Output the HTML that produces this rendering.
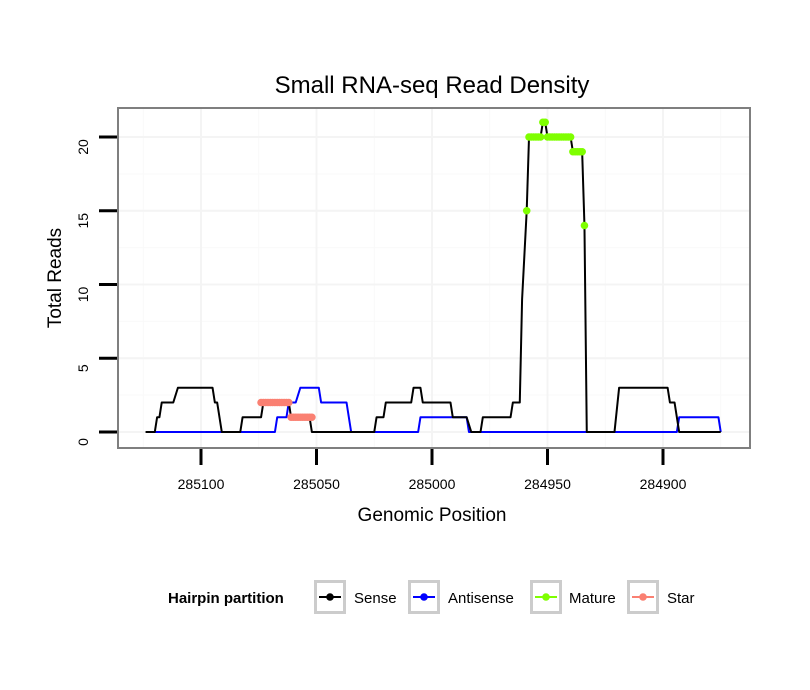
<!DOCTYPE html>
<html><head><meta charset="utf-8"><style>
body{margin:0;background:#fff;}
svg{display:block;font-family:"Liberation Sans",sans-serif;}
</style></head><body>
<svg id="chart" width="810" height="690" viewBox="0 0 810 690">
<text x="432" y="93" font-size="24" text-anchor="middle">Small RNA-seq Read Density</text>
<rect x="118" y="108" width="632" height="340" fill="#fff"/>
<g id="grid"></g>
<g id="series"></g>
<rect x="118" y="108" width="632" height="340" fill="none" stroke="#7f7f7f" stroke-width="2"/>
<g id="axes"></g>
<text x="432" y="521" font-size="19" text-anchor="middle">Genomic Position</text>
<text transform="translate(61,278) rotate(-90)" font-size="19" text-anchor="middle">Total Reads</text>
<g>
<text x="168" y="603" font-size="15" font-weight="bold">Hairpin partition</text>
<g id="legend-keys"></g>
</g>
</svg>
<script>
const senseX=[285124,285120,285119,285118,285117,285112,285110,285095,285094,285093,285091,285083,285082,285074,285073,285062,285061,285053,285052,285025,285024,285021,285020,285009,285008,285005,285004,284992,284991,284985,284983,284979,284978,284966,284965,284962,284961,284959,284958,284953,284952,284951,284950,284940,284939,284935,284934,284933,284921,284919,284898,284897,284895,284893,284875];
const senseY=[0,0,1,1,2,2,3,3,2,2,0,0,1,1,2,2,1,1,0,0,1,1,2,2,3,3,2,2,1,1,0,0,1,1,2,2,9,15,20,20,21,21,20,20,19,19,14,0,0,3,3,2,2,0,0];
const antiX=[285120,285068,285067,285063,285062,285059,285057,285049,285048,285037,285035,285006,285005,284985,284984,284894,284893,284876,284875];
const antiY=[0,0,1,1,2,2,3,3,2,2,0,0,1,1,0,0,1,1,0];
const matureX=[284959,284958,284957,284956,284955,284954,284953,284952,284951,284950,284949,284948,284947,284946,284945,284944,284943,284942,284941,284940,284939,284938,284937,284936,284935,284934];
const matureY=[15,20,20,20,20,20,20,21,21,20,20,20,20,20,20,20,20,20,20,20,19,19,19,19,19,14];
const starX=[285074,285073,285072,285071,285070,285069,285068,285067,285066,285065,285064,285063,285062,285061,285060,285059,285058,285057,285056,285055,285054,285053,285052];
const starY=[2,2,2,2,2,2,2,2,2,2,2,2,2,1,1,1,1,1,1,1,1,1,1];
const xTicks=[285100,285050,285000,284950,284900];
const yTicks=[0,5,10,15,20];
const legendLabels=["Sense","Antisense","Mature","Star"];
const legendColors=["#000000","#0000ff","#7fff00","#fa8072"];

const NS="http://www.w3.org/2000/svg";
const xs=p=>201+(285100-p)*2.31;
const ys=v=>432-v*14.75;
function mk(tag,attrs,parent){const e=document.createElementNS(NS,tag);for(const k in attrs)e.setAttribute(k,attrs[k]);parent.appendChild(e);return e;}
const grid=document.getElementById('grid'),series=document.getElementById('series'),axes=document.getElementById('axes');
for(let v=-2.5;v<=22.5;v+=5){const y=ys(v);if(y<108||y>448)continue;const l=mk('line',{x1:118,x2:750,y1:y,y2:y,stroke:'#f9f9f9','stroke-width':1},grid);

}
for(let p=285125;p>=284875;p-=50){const x=xs(p);if(x<118||x>750)continue;const l=mk('line',{x1:x,x2:x,y1:108,y2:448,stroke:'#f9f9f9','stroke-width':1},grid);

}
yTicks.forEach(v=>{const y=ys(v);const l=mk('line',{x1:118,x2:750,y1:y,y2:y,stroke:'#f4f4f4','stroke-width':2},grid);


const t=mk('line',{x1:99,x2:117,y1:y,y2:y,stroke:'#000','stroke-width':3},axes);


const tx=mk('text',{transform:`translate(88,${y+10}) rotate(-90)`,'font-size':14,'text-anchor':'middle'},axes);tx.textContent=v;

});
xTicks.forEach(p=>{const x=xs(p);const l=mk('line',{x1:x,x2:x,y1:108,y2:448,stroke:'#f4f4f4','stroke-width':2},grid);


const t=mk('line',{x1:x,x2:x,y1:449,y2:465,stroke:'#000','stroke-width':3},axes);


const tx=mk('text',{x:x,y:489,'font-size':14,'text-anchor':'middle'},axes);tx.textContent=p;

});
function line(X,Y,c,name){const pl=mk('polyline',{points:X.map((p,i)=>xs(p)+','+ys(Y[i])).join(' '),fill:'none',stroke:c,'stroke-width':2,'stroke-linejoin':'round'},series);

}
function pts(X,Y,c,name){X.forEach((p,i)=>{const ci=mk('circle',{cx:xs(p),cy:ys(Y[i]),r:3.8,fill:c},series);

});}
line(antiX,antiY,'#0000ff','antisense-line');
line(senseX,senseY,'#000000','sense-line');
pts(matureX,matureY,'#7fff00','mature-point');
pts(starX,starY,'#fa8072','star-point');
const lk=document.getElementById('legend-keys');
const boxX=[314,408,530,627],txtX=[354,448,569,667];
legendLabels.forEach((lab,i)=>{const g=mk('g',{},lk);


mk('rect',{x:boxX[i]+1.5,y:581.5,width:29,height:31,fill:'#fff',stroke:'#cccccc','stroke-width':3},g);
mk('line',{x1:boxX[i]+5,x2:boxX[i]+27,y1:597,y2:597,stroke:legendColors[i],'stroke-width':2},g);
mk('circle',{cx:boxX[i]+16,cy:597,r:3.8,fill:legendColors[i]},g);
const t=mk('text',{x:txtX[i],y:603,'font-size':15},g);t.textContent=lab;});
</script>
</body></html>
